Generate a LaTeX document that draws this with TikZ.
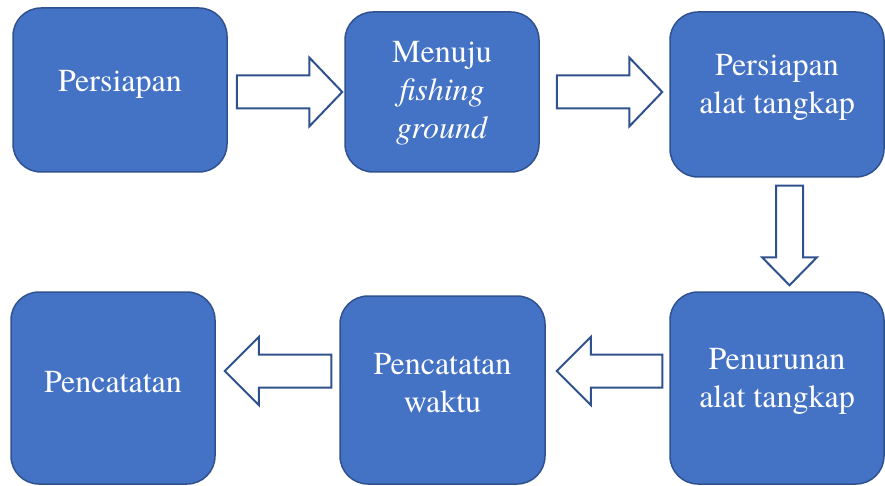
\documentclass[tikz,border=0pt]{standalone}
\usepackage{fontspec}
\setmainfont{texgyretermes}[Extension=.otf, UprightFont=*-regular, ItalicFont=*-italic,
  BoldFont=*-bold, BoldItalicFont=*-bolditalic]
\usetikzlibrary{calc}
\definecolor{isi}{HTML}{4472C4}
\definecolor{garis}{HTML}{2F528F}

\newcommand{\panahblok}[5]{%
  \coordinate (pa-s) at (#1);
  \coordinate (pa-t) at (#2);
  \coordinate (pa-h) at ($(pa-t)!#5!(pa-s)$);
  \draw[panah] ($(pa-s)!#3!90:(pa-t)$) -- ($(pa-h)!#3!-90:(pa-s)$)
    -- ($(pa-h)!#4!-90:(pa-s)$) -- (pa-t) -- ($(pa-h)!#4!90:(pa-s)$)
    -- ($(pa-h)!#3!90:(pa-s)$) -- ($(pa-s)!#3!-90:(pa-t)$) -- cycle;
}

\begin{document}
\begin{tikzpicture}[x=1pt,y=-1pt,kotak/.style={rectangle, rounded corners=28pt, fill=isi,
    draw=garis, line width=1.5pt, inner sep=0pt},teks/.style={text=white, align=center,
    font=\fontsize{32}{38}\selectfont},panah/.style={draw=garis, fill=white, line width=2pt,
    line join=miter}]

  \useasboundingbox (0,0) rectangle (885,486);

  \node [kotak, minimum width=214pt, minimum height=164pt] (per) at (120,90) {};
  \node [kotak, minimum width=194pt, minimum height=160pt] (menuju) at (442,92) {};
  \node [kotak, minimum width=214pt, minimum height=165pt] (persalat) at (777,94.5) {};
  \node [kotak, minimum width=214pt, minimum height=192pt] (penurunan) at (777,388) {};
  \node [kotak, minimum width=205pt, minimum height=188pt] (catwaktu) at (442.5,390) {};
  \node [kotak, minimum width=204pt, minimum height=192pt] (pencatatan) at (113,388) {};

  \node [teks] (per-t) at ($(per.center)+(0,-6)$) {Persiapan};
  \node [teks] (menuju-t) at ($(menuju.center)+(0,1)$) {Menuju\\\textit{fishing}\\\textit{ground}};
  \node [teks] (persalat-t) at ($(persalat.center)+(0,-7)$) {Persiapan\\alat tangkap};
  \node [teks] (penurunan-t) at ($(penurunan.center)+(0,-7)$) {Penurunan\\alat tangkap};
  \node [teks] (catwaktu-t) at ($(catwaktu.center)+(0,-7)$) {Pencatatan\\waktu};
  \node [teks] (pencatatan-t) at ($(pencatatan.center)+(0,-6)$) {Pencatatan};

  \panahblok{$(per.east |- menuju.west)+(9,0)$}{$(menuju.west)+(-2,0)$}{16.5pt}{34.5pt}{33pt}
  \panahblok{$(menuju.east)+(17,0)$}{$(persalat.west |- menuju.east)+(-7,0)$}{16.5pt}{34.5pt}{33pt}
  \panahblok{$(persalat.south)+(12.5,8)$}{$(penurunan.north)+(12.5,-6)$}{13.5pt}{27.5pt}{28pt}
  \panahblok{$(penurunan.west)+(-7,-17)$}{$(catwaktu.east)+(11,-19)$}{16.5pt}{34pt}{34pt}
  \panahblok{$(catwaktu.west)+(-8,-19)$}{$(pencatatan.east)+(9,-17)$}{16.5pt}{34pt}{34pt}

\end{tikzpicture}
\end{document}
